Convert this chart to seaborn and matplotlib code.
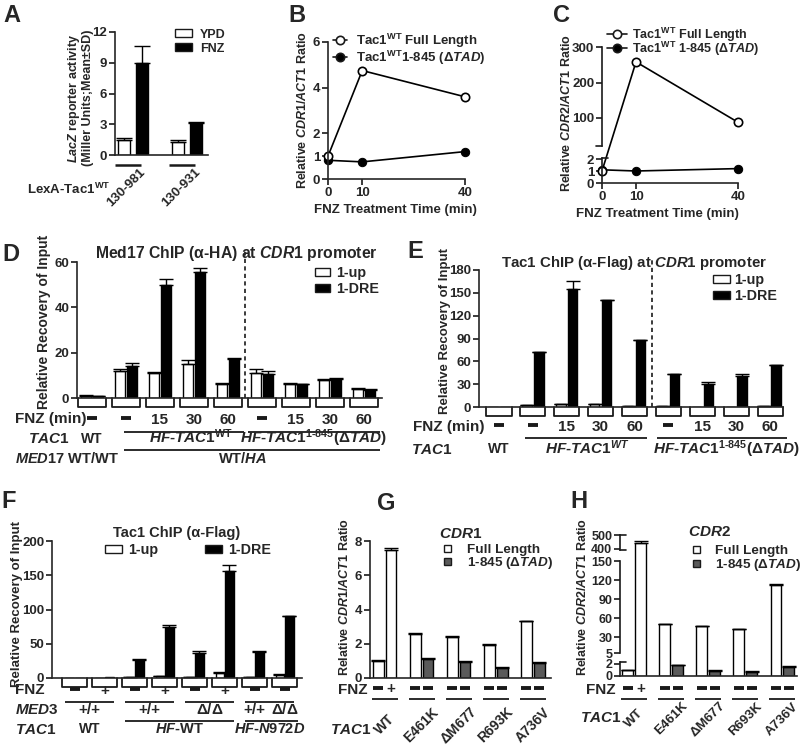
import numpy as np
import pandas as pd
import matplotlib
matplotlib.use("Agg")
import matplotlib.pyplot as plt
import seaborn as sns
from matplotlib import transforms
from matplotlib.patches import Rectangle
from matplotlib.lines import Line2D

# ---------------- data ----------------
a_constructs = ["130-981", "130-931"]
a_ypd = [1.5, 1.3]
a_ypd_sd = [0.15, 0.12]
a_fnz = [9.0, 3.1]
a_fnz_sd = [1.6, 0.12]

b_time = [0, 10, 40]
b_full = [1.0, 4.75, 3.6]
b_dtad = [0.82, 0.75, 1.2]

c_time = [0, 10, 40]
c_full = [1.0, 258.0, 88.0]
c_dtad = [1.1, 1.0, 1.2]

d_fnz = ["-", "-", "15", "30", "60", "-", "15", "30", "60"]
d_up = [1.0, 12.0, 11.0, 15.0, 6.0, 11.2, 6.0, 8.0, 4.0]
d_up_sd = [0.2, 1.0, 0.6, 1.8, 0.5, 1.5, 0.5, 0.2, 0.4]
d_dre = [0.8, 14.3, 50.0, 55.5, 17.2, 10.6, 6.0, 8.3, 3.6]
d_dre_sd = [0.2, 1.3, 2.5, 1.8, 0.5, 1.5, 0.3, 0.4, 0.2]

e_fnz = ["-", "-", "15", "30", "60", "-", "15", "30", "60"]
e_up = [0.5, 2.0, 3.5, 3.5, 1.5, 1.0, 0.5, 0.5, 1.0]
e_up_sd = [0, 0.3, 0.5, 0.5, 0.2, 0.2, 0, 0, 0.2]
e_dre = [0.5, 72.0, 155.0, 140.0, 88.0, 43.0, 30.0, 41.0, 55.0]
e_dre_sd = [0, 0.5, 10.0, 0.5, 0.5, 0.5, 2.5, 2.5, 0.5]

f_fnz = ["-", "+", "-", "+", "-", "+", "-", "-"]
f_up = [0.5, 0.3, 1.0, 2.5, 1.5, 8.0, 1.5, 5.0]
f_up_sd = [0, 0, 0.3, 0.5, 0.3, 0.8, 0.3, 0.8]
f_dre = [0.5, 0.8, 26.0, 74.0, 37.0, 156.0, 38.0, 90.0]
f_dre_sd = [0, 0, 1.5, 4.0, 2.0, 9.0, 1.0, 1.0]

gh_tac1 = ["WT", "E461K", "$\\mathit{Δ}$M677", "R693K", "A736V"]
gh_fnz = [["-", "+"], ["-", "-"], ["-", "-"], ["-", "-"], ["-", "-"]]
g_fl = [1.0, 2.55, 2.4, 1.95, 3.3]
g_fl_sd = [0.03, 0.05, 0.04, 0.06, 0.05]
g_b2 = [7.5, 1.1, 0.95, 0.6, 0.9]
g_b2_sd = [0.07, 0.08, 0.04, 0.04, 0.06]
h_fl = [1.0, 50.0, 47.0, 43.0, 112.0]
h_fl_sd = [0.05, 0.6, 0.6, 0.6, 1.5]
h_b2 = [440.0, 1.8, 0.9, 0.7, 1.5]
h_b2_sd = [15.0, 0.1, 0.1, 0.1, 0.2]

# ---------------- style ----------------
sns.set_theme(style="ticks")
plt.rcParams["font.family"] = ["Liberation Sans", "DejaVu Sans"]
plt.rcParams["font.weight"] = "bold"
plt.rcParams["axes.linewidth"] = 1.2
plt.rcParams["mathtext.fontset"] = "custom"
plt.rcParams["mathtext.rm"] = "Liberation Sans:bold"
plt.rcParams["mathtext.bf"] = "Liberation Sans:bold"
plt.rcParams["mathtext.sf"] = "Liberation Sans:bold"
plt.rcParams["mathtext.it"] = "Liberation Sans:italic:bold"
plt.rcParams["mathtext.default"] = "rm"

W, H = 800, 745
fig = plt.figure(figsize=(8, 7.45), dpi=100)
fig.patch.set_facecolor("white")

GRAY = "#5a5a5a"
ROW = 11      # row label size
TICK = 9.5    # tick label size


def fy(py):
    return 1 - py / H


def add_ax(l, t, r, b):
    return fig.add_axes([l / W, 1 - b / H, (r - l) / W, (b - t) / H])


def T(x, yc, s, size=9, ha="left", rot=0, **kw):
    # yc is vertical centre of capitals, pixels from top
    if rot == 0:
        fig.text(x / W, fy(yc + 0.36 * size * 100 / 72), s, fontsize=size, ha=ha,
                 va="baseline", fontweight="bold", **kw)
    else:
        fig.text(x / W, fy(yc), s, fontsize=size, ha=ha, va="center",
                 rotation=rot, fontweight="bold", **kw)


def bt(ax):
    return transforms.blended_transform_factory(ax.transData, fig.transFigure)


def px2u(ax, px):
    x0, x1 = ax.get_xlim()
    return px * (x1 - x0) / (ax.get_position().width * W)


def TD(ax, x, yc, s, size=ROW, ha="center", **kw):
    if s == "-":
        hw = px2u(ax, 5)
        ax.plot([x - hw, x + hw], [fy(yc)] * 2, transform=bt(ax), color="k", lw=2.8,
                solid_capstyle="butt", clip_on=False)
    else:
        fig.text(x, fy(yc + 0.36 * size * 100 / 72), s, transform=bt(ax), fontsize=size,
                 ha=ha, va="baseline", fontweight="bold", **kw)


def hline(ax, x0, x1, ypx, lw=1.3):
    ax.plot([x0, x1], [fy(ypx)] * 2, transform=bt(ax), color="k", lw=lw,
            clip_on=False, solid_capstyle="butt")


def brackets(ax, n, y0, y1, hw):
    for i in range(n):
        ax.plot([i - hw, i - hw, i + hw, i + hw], [fy(y0), fy(y1), fy(y1), fy(y0)],
                transform=bt(ax), color="k", lw=1.3, clip_on=False)


def style_ax(ax, size=TICK):
    for s in ["top", "right"]:
        ax.spines[s].set_visible(False)
    ax.spines["left"].set_linewidth(1.2)
    ax.spines["bottom"].set_linewidth(1.2)
    ax.tick_params(axis="both", length=4, width=1.2, labelsize=size, pad=1.5, color="k")
    ax.set_xlabel("")
    ax.set_ylabel("")
    ax.set_facecolor("none")


def bars(ax, v1, v2, c1, c2, width, gap, s1=None, s2=None, capsize=4):
    n = len(v1)
    df = pd.DataFrame({"g": list(range(n)) * 2, "slot": ["a"] * n + ["b"] * n,
                       "v": list(v1) + list(v2)})
    sns.barplot(data=df, x="g", y="v", hue="slot", palette={"a": c1, "b": c2},
                width=width, gap=gap, edgecolor="black", linewidth=1.0,
                errorbar=None, legend=False, saturation=1, ax=ax)
    off = width / 4
    xs = np.arange(n)
    for sl, vals, sd in [(-1, v1, s1), (1, v2, s2)]:
        if sd is None:
            continue
        sd = np.asarray(sd, float)
        m = sd > 0
        ax.errorbar(xs[m] + sl * off, np.asarray(vals, float)[m],
                    yerr=[np.zeros(m.sum()), sd[m]], fmt="none", ecolor="black",
                    elinewidth=1.0, capsize=capsize, capthick=1.0)
    ax.set_xticks([])


def lbox(x, yc, w, h, fc):
    fig.add_artist(Rectangle((x / W, fy(yc + h / 2)), w / W, h / H, transform=fig.transFigure,
                             facecolor=fc, edgecolor="k", lw=1.0))


def lmark(x0, x1, yc, fc):
    fig.add_artist(Line2D([x0 / W, x1 / W], [fy(yc)] * 2, transform=fig.transFigure,
                          color="k", lw=1.2))
    fig.add_artist(Line2D([(x0 + x1) / 2 / W], [fy(yc)], transform=fig.transFigure,
                          marker="o", ms=6, mfc=fc, mec="k", mew=1.2, ls="none"))


def broken_spine(ax, segs, caps):
    ax.spines["left"].set_visible(False)
    tr = transforms.blended_transform_factory(ax.transAxes, ax.transData)
    for lo, hi in segs:
        ax.plot([0, 0], [lo, hi], transform=tr, color="k", lw=1.2, clip_on=False,
                solid_capstyle="projecting")
    cw = 6 / (ax.get_position().width * W)
    for yv, side in caps:
        ax.plot([0, side * cw], [yv, yv], transform=tr, color="k", lw=1.2, clip_on=False)


def rot_labels(ax, labels, yc, size=10):
    for i, lab in enumerate(labels):
        fig.text(i, fy(yc), lab, transform=bt(ax), rotation=45, ha="center", va="center",
                 fontsize=size, fontweight="bold")


# ---------------- panel letters ----------------
for lx, ly, s in [(3, 14, "A"), (288, 13, "B"), (553, 13, "C"), (2, 252, "D"),
                  (407, 250, "E"), (1, 499, "F"), (377, 502, "G"), (570, 500, "H")]:
    T(lx, ly, s, size=17)

# ---------------- A ----------------
ax = add_ax(115, 32, 208, 155)
bars(ax, a_ypd, a_fnz, "white", "black", width=0.66, gap=0.33,
     s1=a_ypd_sd, s2=a_fnz_sd, capsize=6)
style_ax(ax)
ax.set_ylim(0, 12)
ax.set_yticks([0, 3, 6, 9, 12])
ax.set_xlim(-0.33, 1.38)
for i, lab in enumerate(a_constructs):
    hline(ax, i - 0.33, i + 0.15, 165, lw=1.8)
    fig.text(i - 0.12, fy(188), lab, transform=bt(ax), rotation=45, ha="center",
             va="center", fontsize=9.5, fontweight="bold")
T(27, 189, "LexA-Tac1$^{\\mathrm{WT}}$", size=9.5)
fig.text(80 / W, fy(98), "$\\mathit{LacZ}$ reporter activity\n(Miller Units;Mean±SD)",
         rotation=90, ha="center", va="center", fontsize=9, fontweight="bold",
         multialignment="center", linespacing=1.1)
lbox(175, 33, 17, 8, "white")
lbox(175, 47, 17, 8, "black")
T(200, 33, "YPD", size=9)
T(200, 47, "FNZ", size=9)

# ---------------- B ----------------
ax = add_ax(328, 42, 465, 179)
sns.lineplot(x=b_time, y=b_dtad, ax=ax, color="black", marker="o", markersize=6,
             markerfacecolor="black", markeredgecolor="black", linewidth=1.2, clip_on=False)
sns.lineplot(x=b_time, y=b_full, ax=ax, color="black", marker="o", markersize=6,
             markerfacecolor="white", markeredgecolor="black", markeredgewidth=1.2,
             linewidth=1.2, clip_on=False)
style_ax(ax)
ax.set_xlim(0, 40)
ax.set_ylim(0, 6)
ax.set_yticks([0, 1, 2, 4, 6])
ax.set_xticks([0, 10, 40])
T(303, 110, "Relative $\\mathit{CDR1/ACT1}$ Ratio", size=9, rot=90, ha="center")
T(395, 208, "FNZ Treatment Time (min)", size=9.5, ha="center")
lmark(333, 347, 40, "white")
lmark(333, 347, 57, "black")
T(356, 40, "Tac1$^{\\mathrm{WT}}$ Full Length", size=9.5)
T(356, 57, "Tac1$^{\\mathrm{WT}}$1-845 ($\\mathit{ΔTAD}$)", size=9.5)

# ---------------- C (broken axis) ----------------
c_dat = [-10, 0, 2.1, 20, 300, 1000]
c_px = [-120, 0, 25.2, 36.6, 136, 384.5]
ax = add_ax(602, 47, 738, 183)
ax.set_yscale("function", functions=(lambda v: np.interp(v, c_dat, c_px),
                                     lambda p: np.interp(p, c_px, c_dat)))
sns.lineplot(x=c_time, y=c_dtad, ax=ax, color="black", marker="o", markersize=6,
             markerfacecolor="black", markeredgecolor="black", linewidth=1.2, clip_on=False)
sns.lineplot(x=c_time, y=c_full, ax=ax, color="black", marker="o", markersize=6,
             markerfacecolor="white", markeredgecolor="black", markeredgewidth=1.2,
             linewidth=1.2, clip_on=False)
style_ax(ax)
ax.set_xlim(0, 40)
ax.set_ylim(0, 300)
ax.set_yticks([0, 1, 2, 100, 200, 300])
ax.set_xticks([0, 10, 40])
broken_spine(ax, [(0, 2.1), (20, 300)], [(2.1, 1), (20, -1)])
T(567, 113, "Relative $\\mathit{CDR2/ACT1}$ Ratio", size=9, rot=90, ha="center")
T(657, 212, "FNZ Treatment Time (min)", size=9.5, ha="center")
lmark(607, 627, 34, "white")
lmark(607, 627, 48, "black")
T(632, 34, "Tac1$^{\\mathrm{WT}}$ Full Length", size=9.1)
T(632, 48, "Tac1$^{\\mathrm{WT}}$ 1-845 ($\\mathit{ΔTAD}$)", size=9.1)

# ---------------- D ----------------
ax = add_ax(77, 262, 382, 398)
bars(ax, d_up, d_dre, "white", "black", width=0.7, gap=0.2, s1=d_up_sd, s2=d_dre_sd, capsize=5)
style_ax(ax)
ax.set_ylim(0, 60)
ax.set_yticks([0, 20, 40, 60])
ax.set_xlim(-0.44, 8.53)
ax.axvline(4.5, ymin=0, ymax=(398 - 252) / (398 - 262), color="k", lw=1.2,
           ls=(0, (2.5, 2)), clip_on=False)
brackets(ax, len(d_up), 398, 407, 0.41)
T(236, 252, "Med17 ChIP (α-HA) at $\\mathit{CDR1}$ promoter", size=11.3, ha="center")
lbox(315, 272, 15, 8, "white")
lbox(315, 288, 15, 8, "black")
T(336, 272, "1-up", size=10.3)
T(336, 288, "1-DRE", size=10.3)
T(44, 322, "Relative Recovery of Input", size=10, rot=90, ha="center")
T(15, 418, "FNZ (min)", size=ROW)
for i, s in enumerate(d_fnz):
    TD(ax, i, 418, s)
hline(ax, 0.95, 4.48, 432)
hline(ax, 4.58, 8.47, 432)
T(28, 438, "$\\mathit{TAC1}$", size=ROW)
TD(ax, 0, 438, "WT", size=10)
TD(ax, 2.9, 438, "$\\mathit{HF\\text{-}TAC1}^{\\mathrm{WT}}$")
TD(ax, 6.5, 438, "$\\mathit{HF\\text{-}TAC1}^{\\mathit{1\\text{-}845}}\\mathrm{(}\\mathit{ΔTAD}\\mathrm{)}$")
hline(ax, 0.95, 8.47, 450)
T(15, 458, "$\\mathit{MED17}$ WT/WT", size=10.5)
TD(ax, 4.44, 458, "WT/$\\mathit{HA}$", size=10.5)

# ---------------- E ----------------
ax = add_ax(479, 270, 783, 407)
bars(ax, e_up, e_dre, "white", "black", width=0.7, gap=0.2, s1=e_up_sd, s2=e_dre_sd, capsize=5)
style_ax(ax)
ax.set_ylim(0, 180)
ax.set_yticks([0, 30, 60, 90, 120, 150, 180])
ax.set_xlim(-0.59, 8.38)
ax.axvline(4.5, ymin=0, ymax=(407 - 258) / (407 - 270), color="k", lw=1.2,
           ls=(0, (2.5, 2)), clip_on=False)
brackets(ax, len(e_up), 407, 416, 0.37)
T(634, 262, "Tac1 ChIP (α-Flag) at $\\mathit{CDR1}$ promoter", size=10.8, ha="center")
lbox(713, 279, 17, 8, "white")
lbox(713, 295, 17, 8, "black")
T(734, 279, "1-up", size=10.3)
T(734, 295, "1-DRE", size=10.3)
T(445, 331, "Relative Recovery of Input", size=9.5, rot=90, ha="center")
T(413, 425, "FNZ (min)", size=ROW)
for i, s in enumerate(e_fnz):
    TD(ax, i, 425, s)
hline(ax, 0.77, 4.37, 438)
hline(ax, 4.66, 8.5, 438)
T(411, 448, "$\\mathit{TAC1}$", size=ROW)
TD(ax, 0, 448, "WT", size=10)
TD(ax, 2.6, 448, "$\\mathit{HF\\text{-}TAC1}^{\\mathit{WT}}$")
TD(ax, 6.7, 448, "$\\mathit{HF\\text{-}TAC1}^{\\mathit{1\\text{-}845}}\\mathrm{(}\\mathit{ΔTAD}\\mathrm{)}$")

# ---------------- F ----------------
ax = add_ax(52, 541, 302, 678)
bars(ax, f_up, f_dre, "white", "black", width=0.65, gap=0.15, s1=f_up_sd, s2=f_dre_sd, capsize=5)
style_ax(ax)
ax.set_ylim(0, 200)
ax.set_yticks([0, 50, 100, 150, 200])
ax.set_xlim(-0.75, 7.58)
brackets(ax, len(f_up), 678, 687, 0.42)
T(177, 532, "Tac1 ChIP (α-Flag)", size=10.5, ha="center")
lbox(105, 549, 17, 8, "white")
lbox(205, 549, 17, 8, "black")
T(128, 549, "1-up", size=10.3)
T(228, 549, "1-DRE", size=10.3)
T(17, 604, "Relative Recovery of Input", size=9.5, rot=90, ha="center")
T(15, 689, "FNZ", size=ROW)
for i, s in enumerate(f_fnz):
    TD(ax, i, 689, s)
for k in range(4):
    hline(ax, 2 * k - 0.32, 2 * k + 1.3, 702)
T(15, 709, "$\\mathit{MED3}$", size=ROW)
for xg, s in [(0.5, "+/+"), (2.5, "+/+"), (4.5, "$\\mathit{Δ/Δ}$"), (6, "+/+"), (7, "$\\mathit{Δ/Δ}$")]:
    TD(ax, xg, 709, s)
hline(ax, 1.68, 5.3, 721)
hline(ax, 5.68, 7.45, 721)
T(15, 728, "$\\mathit{TAC1}$", size=ROW)
TD(ax, 0.5, 728, "WT", size=10)
TD(ax, 3.5, 728, "$\\mathit{HF}$-WT", size=10.5)
TD(ax, 6.5, 728, "$\\mathit{HF\\text{-}N972D}$", size=10.5)

# ---------------- G ----------------
ax = add_ax(370, 541, 551, 678)
bars(ax, g_fl, g_b2, "white", GRAY, width=0.7, gap=0.2, s1=g_fl_sd, s2=g_b2_sd, capsize=5)
ax.containers[1].patches[0].set_facecolor("white")
style_ax(ax)
ax.set_ylim(0, 8)
ax.set_yticks([0, 2, 4, 6, 8])
ax.set_xlim(-0.4, 4.49)
T(439, 532, "$\\mathit{CDR1}$", size=11)
lbox(444, 548, 7, 7, "white")
lbox(444, 561, 7, 7, GRAY)
T(467, 548, "Full Length", size=9.7)
T(467, 561, "1-845 ($\\mathit{ΔTAD}$)", size=9.7)
T(345, 597, "Relative $\\mathit{CDR1/ACT1}$ Ratio", size=9, rot=90, ha="center")
T(368, 688, "FNZ", size=ROW, ha="right")
for i, pair in enumerate(gh_fnz):
    TD(ax, i - 0.175, 688, pair[0])
    TD(ax, i + 0.175, 688, pair[1])
    hline(ax, i - 0.35, i + 0.35, 699)
rot_labels(ax, gh_tac1, 725)
T(330, 729, "$\\mathit{TAC1}$", size=ROW)

# ---------------- H (broken axis) ----------------
h_dat = [-10, 0, 2.3, 5, 150, 390, 500, 1000]
h_px = [-60, 0, 13.8, 23, 115, 126, 141, 211]
ax = add_ax(620, 535, 797, 676)
bars(ax, h_fl, h_b2, "white", GRAY, width=0.7, gap=0.2, s1=h_fl_sd, s2=h_b2_sd, capsize=5)
ax.containers[1].patches[0].set_facecolor("white")
ax.set_yscale("function", functions=(lambda v: np.interp(v, h_dat, h_px),
                                     lambda p: np.interp(p, h_px, h_dat)))
style_ax(ax, size=9)
ax.set_ylim(0, 500)
ax.set_yticks([0, 2, 5, 30, 60, 90, 120, 150, 400, 500])
ax.set_yticklabels(["0", "2", "5", "30", "60", "90", "120", "150", "400", "500"])
ax.minorticks_off()
ax.set_xlim(-0.38, 4.4)
broken_spine(ax, [(0, 2.3), (5, 150), (390, 500)], [(2.3, 1), (390, 1), (500, 1)])
T(688, 530, "$\\mathit{CDR2}$", size=11)
lbox(693, 549, 7, 7, "white")
lbox(693, 563, 7, 7, GRAY)
T(715, 549, "Full Length", size=9.7)
T(715, 563, "1-845 ($\\mathit{ΔTAD}$)", size=9.7)
T(583, 597, "Relative $\\mathit{CDR2/ACT1}$ Ratio", size=9, rot=90, ha="center")
T(616, 688, "FNZ", size=ROW, ha="right")
for i, pair in enumerate(gh_fnz):
    TD(ax, i - 0.175, 688, pair[0])
    TD(ax, i + 0.175, 688, pair[1])
    hline(ax, i - 0.35, i + 0.35, 699)
rot_labels(ax, gh_tac1, 719, size=9.5)
T(580, 716, "$\\mathit{TAC1}$", size=ROW)

fig.savefig("out.png", dpi=100, facecolor="white")
